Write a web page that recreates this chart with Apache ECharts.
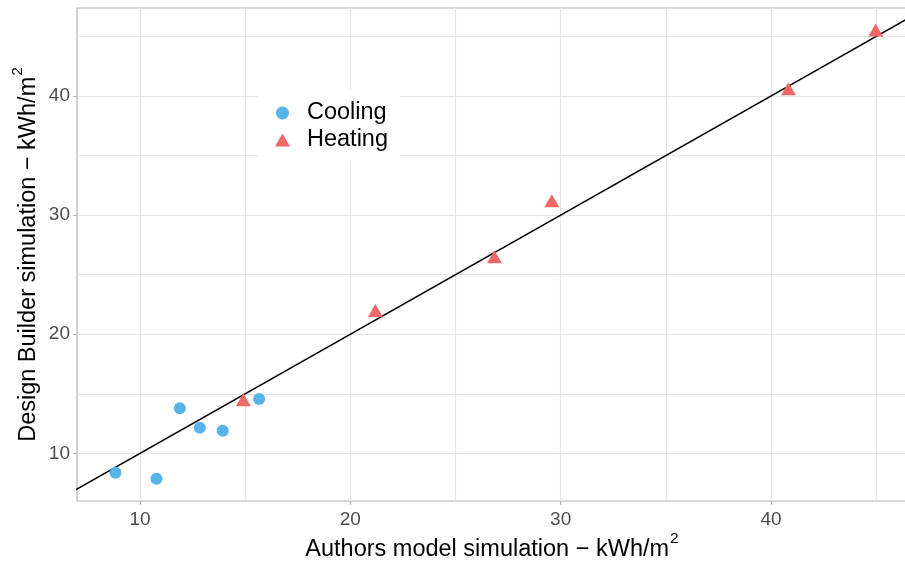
<!DOCTYPE html>
<html>
<head>
<meta charset="utf-8">
<script src="https://cdn.jsdelivr.net/npm/echarts@6/dist/echarts.min.js"></script>
<style>
html,body{margin:0;padding:0;background:#fff;}
#chart{width:905px;height:562px;}
</style>
</head>
<body>
<div id="chart"></div>
<script>
// Data
const coolingX = [8.83, 10.78, 11.89, 12.84, 13.93, 15.66];
const coolingY = [8.37, 7.87, 13.78, 12.15, 11.90, 14.56];
const heatingX = [14.91, 21.19, 26.85, 29.58, 40.83, 44.98];
const heatingY = [14.50, 21.99, 26.50, 31.20, 40.61, 45.54];
const seriesNames = ['Cooling', 'Heating'];
// identity line y = x, drawn across the x range
const identityRange = [6.9, 46.6];
// axis ticks
const majorTicks = [10, 20, 30, 40];
const minorTicks = [15, 25, 35, 45];
const xExtent = [7.0, 46.47];
const yExtent = [6.0, 47.39];

const FONT = 'Liberation Sans, Arial, Helvetica, sans-serif';
const gridColor = '#E6E6E6';

const chart = echarts.init(document.getElementById('chart'), null, {renderer: 'canvas'});

const gridLines = [];
majorTicks.concat(minorTicks).forEach(v => {
  gridLines.push({xAxis: v});
  gridLines.push({yAxis: v});
});

const nameStyle = {fontSize: 23.5, color: '#000', fontFamily: FONT, lineHeight: 26,
  rich: {sup: {fontSize: 15.5, verticalAlign: 'bottom', lineHeight: 10, padding: [0, 0, 16, 1], fontFamily: FONT, color: '#000'}}};

const option = {
  animation: false,
  backgroundColor: '#ffffff',
  textStyle: {fontFamily: FONT},
  grid: {
    left: 77, top: 8, right: -2, bottom: 61,
    containLabel: false,
    outerBoundsMode: 'none',
    show: true, borderColor: '#B3B3B3', borderWidth: 1.2, backgroundColor: '#ffffff'
  },
  legend: {
    orient: 'vertical',
    left: 258, top: 91,
    padding: [10, 12, 10, 17],
    backgroundColor: '#ffffff',
    itemWidth: 15, itemHeight: 13,
    itemGap: 3,
    textStyle: {fontSize: 23.5, color: '#000', fontFamily: FONT, lineHeight: 24, padding: [0, 0, 0, 12]},
    data: [{name: 'Cooling', icon: 'circle'}, {name: 'Heating', icon: 'triangle'}]
  },
  xAxis: {
    type: 'value', min: xExtent[0], max: xExtent[1],
    splitLine: {show: false},
    axisLine: {show: false},
    axisTick: {show: true, customValues: majorTicks, length: 4, lineStyle: {color: '#B3B3B3', width: 1.2}},
    axisLabel: {customValues: majorTicks, color: '#4D4D4D', fontSize: 19, margin: 9, fontFamily: FONT,
      formatter: v => (majorTicks.indexOf(v) >= 0 ? String(v) : '')},
    name: 'Authors model simulation − kWh/m{sup|2}',
    nameLocation: 'middle', nameGap: 36, nameMoveOverlap: false,
    nameTextStyle: nameStyle
  },
  yAxis: {
    type: 'value', min: yExtent[0], max: yExtent[1],
    splitLine: {show: false},
    axisLine: {show: false},
    axisTick: {show: true, customValues: majorTicks, length: 4, lineStyle: {color: '#B3B3B3', width: 1.2}},
    axisLabel: {customValues: majorTicks, color: '#4D4D4D', fontSize: 19, margin: 7, fontFamily: FONT,
      formatter: v => (majorTicks.indexOf(v) >= 0 ? String(v) : '')},
    name: 'Design Builder simulation − kWh/m{sup|2}',
    nameLocation: 'middle', nameGap: 35, nameMoveOverlap: false,
    nameTextStyle: nameStyle
  },
  series: [
    {
      name: 'gridlines', type: 'scatter', data: [], z: 1, silent: true,
      markLine: {
        z: 1, silent: true, symbol: ['none', 'none'], label: {show: false},
        lineStyle: {color: gridColor, width: 1.2, type: 'solid'},
        emphasis: {disabled: true},
        data: gridLines
      }
    },
    {
      name: 'identity', type: 'line', z: 3, silent: true,
      data: identityRange.map(v => [v, v]),
      showSymbol: false, symbol: 'none',
      lineStyle: {color: '#000', width: 1.5},
      clip: true
    },
    {
      name: seriesNames[0], type: 'scatter', z: 4,
      symbol: 'circle', symbolSize: 12, symbolKeepAspect: true,
      itemStyle: {color: '#56B4E9', opacity: 1},
      data: coolingX.map((x, i) => [x, coolingY[i]])
    },
    {
      name: seriesNames[1], type: 'scatter', z: 4,
      symbol: 'triangle', symbolSize: [15, 13],
      itemStyle: {color: '#EF6767', opacity: 1},
      data: heatingX.map((x, i) => [x, heatingY[i]])
    }
  ]
};
chart.setOption(option);
</script>
</body>
</html>
